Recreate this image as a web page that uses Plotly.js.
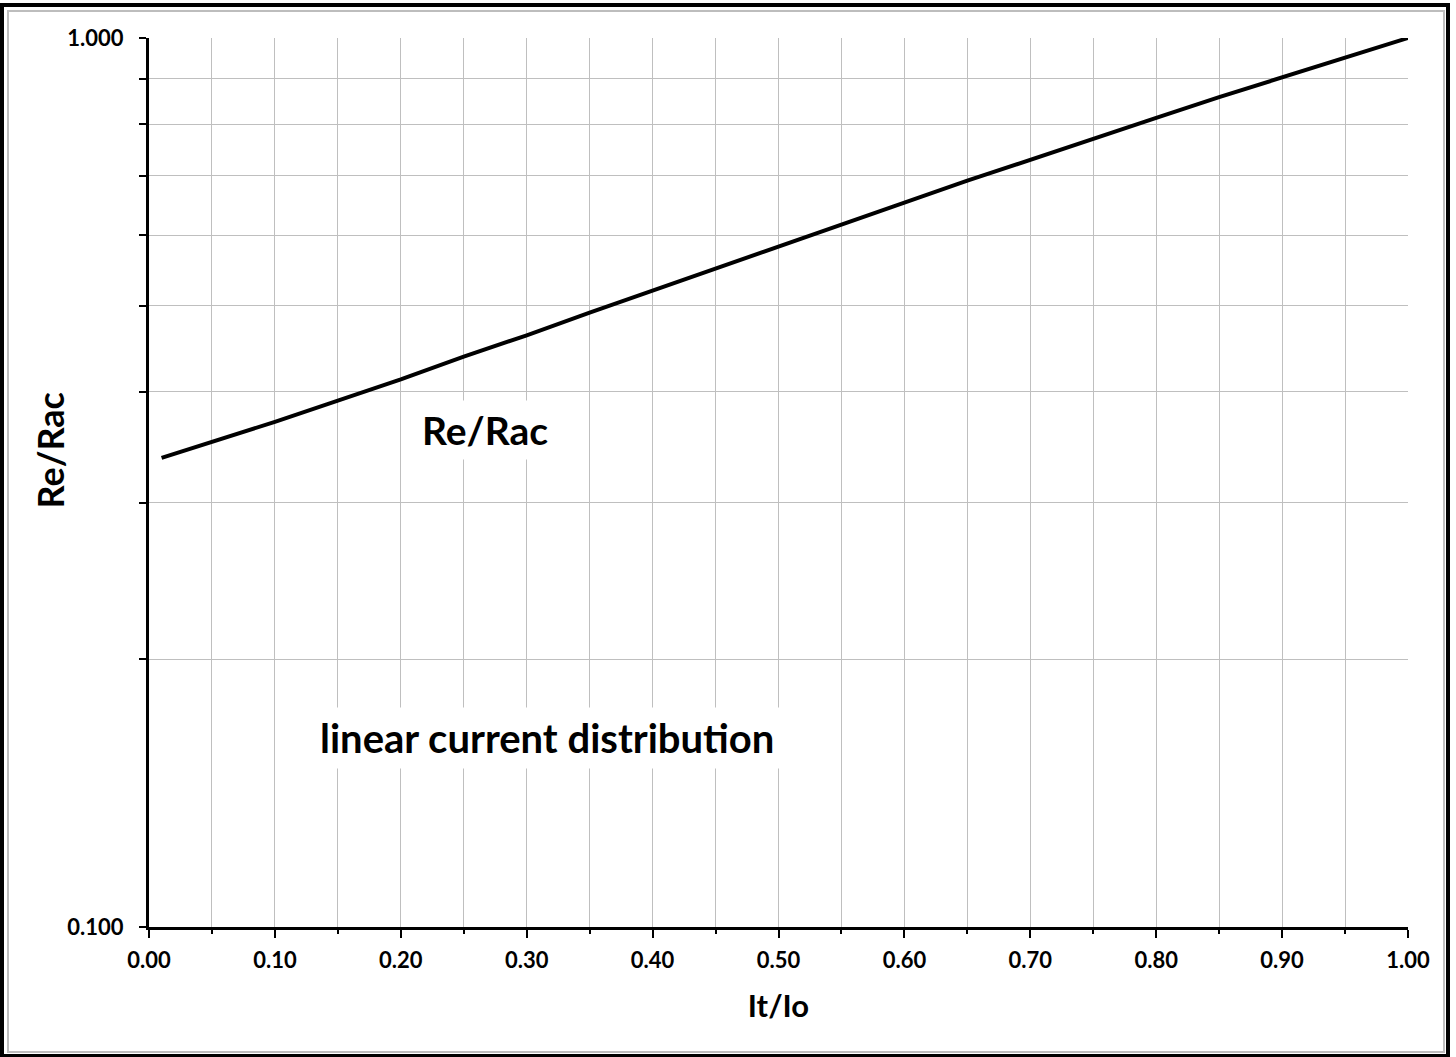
<!DOCTYPE html>
<html>
<head>
<meta charset="utf-8">
<script src="https://cdn.plot.ly/plotly-3.0.1.min.js"></script>
<style>
  html, body { margin: 0; padding: 0; background: #fff; }
  #wrap { position: relative; width: 1456px; height: 1057px; overflow: hidden; }
  #chart { position: absolute; left: 0; top: 0; width: 1456px; height: 1057px; }
  .frame { position: absolute; pointer-events: none; }
</style>
</head>
<body>
<div id="wrap">
  <div id="chart"></div>
  <div class="frame" style="left:0;top:3px;width:1450px;height:1054px;box-sizing:border-box;border:4px solid #000;border-bottom-width:3px;"></div>
  <div class="frame" style="left:7px;top:10px;width:1438px;height:1043px;box-sizing:border-box;border:2px solid #bdbdbd;"></div>
</div>
<script>
// Data
const ratioItIo = [0.01, 0.05, 0.10, 0.15, 0.20, 0.25, 0.30, 0.35, 0.40, 0.45, 0.50,
                   0.55, 0.60, 0.65, 0.70, 0.75, 0.80, 0.85, 0.90, 0.95, 1.00];
const reRac = [0.337, 0.351, 0.370, 0.391, 0.413, 0.438, 0.463, 0.491, 0.520, 0.551, 0.583,
               0.618, 0.653, 0.691, 0.730, 0.771, 0.813, 0.858, 0.903, 0.951, 1.000];
const yTickVals = [0.1, 0.2, 0.3, 0.4, 0.5, 0.6, 0.7, 0.8, 0.9, 1.0];
const yTickText = ["0.100", "", "", "", "", "", "", "", "", "1.000"];
const xTickVals = [0.0, 0.1, 0.2, 0.3, 0.4, 0.5, 0.6, 0.7, 0.8, 0.9, 1.0];
const xTickText = ["0.00", "0.10", "0.20", "0.30", "0.40", "0.50", "0.60", "0.70", "0.80", "0.90", "1.00"];

const FONT = "Lato, 'Open Sans', sans-serif";

const trace = {
  x: ratioItIo, y: reRac, type: 'scatter', mode: 'lines',
  line: { color: '#000', width: 4 }, hoverinfo: 'skip', showlegend: false
};

const layout = {
  width: 1456, height: 1057,
  margin: { l: 149, r: 48, t: 38, b: 130, pad: 0 },
  paper_bgcolor: '#fff', plot_bgcolor: '#fff',
  font: { family: FONT, color: '#000' },
  xaxis: {
    range: [0, 1], tickvals: xTickVals, ticktext: xTickText,
    ticks: 'outside', ticklen: 8, tickwidth: 2, tickcolor: '#000',
    showline: true, linecolor: '#000', linewidth: 3,
    showgrid: true, gridcolor: '#bfbfbf', gridwidth: 1,
    minor: { dtick: 0.05, tick0: 0, ticks: 'outside', ticklen: 4, tickwidth: 2, tickcolor: '#000', showgrid: true, gridcolor: '#bfbfbf', gridwidth: 1 },
    zeroline: false,
    tickfont: { family: FONT, size: 22, color: '#000', weight: 'bold' },
    ticklabelstandoff: 4,
    title: { text: '<b>It/Io</b>', font: { family: FONT, size: 31, color: '#000' }, standoff: 23 }
  },
  yaxis: {
    type: 'log', range: [-1, 0], tickvals: yTickVals, ticktext: yTickText,
    ticks: 'outside', ticklen: 7, tickwidth: 2, tickcolor: '#000',
    showline: true, linecolor: '#000', linewidth: 3,
    showgrid: true, gridcolor: '#bfbfbf', gridwidth: 1,
    zeroline: false,
    tickfont: { family: FONT, size: 22, color: '#000', weight: 'bold' },
    ticklabelstandoff: 11
  },
  annotations: [
    { xref: 'paper', yref: 'paper', x: -0.0786, y: 0.536, xanchor: 'center', yanchor: 'middle',
      text: '<b>Re/Rac</b>', showarrow: false, textangle: -90,
      font: { family: FONT, size: 36, color: '#000' } },
    { xref: 'paper', yref: 'paper', x: 0.267, y: 0.559, xanchor: 'center', yanchor: 'middle',
      text: '<b>Re/Rac</b>', showarrow: false,
      font: { family: FONT, size: 39, color: '#000' }, bgcolor: '#fff', borderpad: 6 },
    { xref: 'paper', yref: 'paper', x: 0.316, y: 0.2125, xanchor: 'center', yanchor: 'middle',
      text: '<b>linear current distribution</b>', showarrow: false,
      font: { family: FONT, size: 40, color: '#000' }, bgcolor: '#fff', borderpad: 6 }
  ]
};

Plotly.newPlot('chart', [trace], layout, { displayModeBar: false, staticPlot: true });
</script>
</body>
</html>
